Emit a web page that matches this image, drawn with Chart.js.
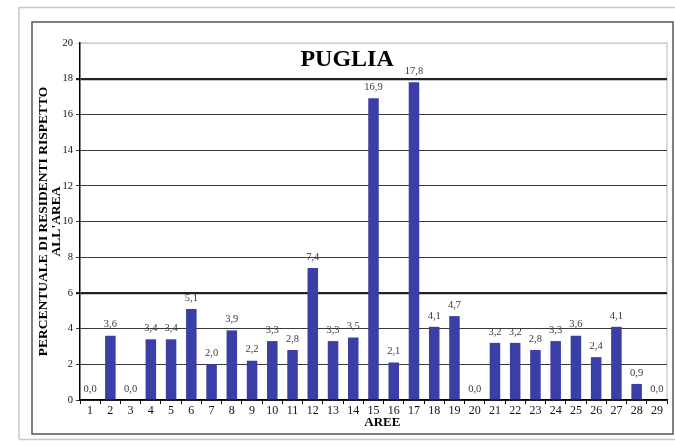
<!DOCTYPE html>
<html>
<head>
<meta charset="utf-8">
<script src="https://cdn.jsdelivr.net/npm/chart.js@4/dist/chart.umd.min.js"></script>
<style>
  html, body { margin: 0; padding: 0; background: #ffffff; }
  #wrap { width: 675px; height: 445px; position: relative; }
</style>
</head>
<body>
<div id="wrap"><canvas id="c" width="675" height="445"></canvas></div>
<script>
const categories = ['1','2','3','4','5','6','7','8','9','10','11','12','13','14','15','16','17','18','19','20','21','22','23','24','25','26','27','28','29'];
const values = [0.0, 3.6, 0.0, 3.4, 3.4, 5.1, 2.0, 3.9, 2.2, 3.3, 2.8, 7.4, 3.3, 3.5, 16.9, 2.1, 17.8, 4.1, 4.7, 0.0, 3.2, 3.2, 2.8, 3.3, 3.6, 2.4, 4.1, 0.9, 0.0];
const chartTitle = 'PUGLIA';
const yTitle = ['PERCENTUALE DI RESIDENTI RISPETTO', "ALL'AREA"];
const xTitle = 'AREE';

const SERIF = '"Liberation Serif", "DejaVu Serif", serif';

const framePlugin = {
  id: 'framePlugin',
  beforeDraw(chart) {
    const ctx = chart.ctx;
    const a = chart.chartArea;
    ctx.save();
    ctx.fillStyle = '#ffffff';
    ctx.fillRect(0, 0, chart.width, chart.height);
    // outer light frame
    ctx.strokeStyle = '#c8c8c8';
    ctx.lineWidth = 1.5;
    ctx.beginPath();
    ctx.moveTo(19, 439.5);
    ctx.lineTo(19, 7.5);
    ctx.lineTo(675, 7.5);
    ctx.moveTo(19, 439.5);
    ctx.lineTo(675, 439.5);
    ctx.stroke();
    // inner dark frame
    ctx.strokeStyle = '#555555';
    ctx.lineWidth = 1.5;
    ctx.strokeRect(32, 22, 641, 412);
    // plot area border (light)
    ctx.strokeStyle = '#cfcfcf';
    ctx.lineWidth = 1.5;
    ctx.beginPath();
    ctx.moveTo(a.left, a.top);
    ctx.lineTo(a.right, a.top);
    ctx.lineTo(a.right, a.bottom);
    ctx.stroke();
    ctx.restore();
  },
  afterDatasetsDraw(chart) {
    const ctx = chart.ctx;
    const a = chart.chartArea;
    const meta = chart.getDatasetMeta(0);
    ctx.save();
    ctx.font = '10.5px ' + SERIF;
    ctx.fillStyle = '#3a3a3a';
    ctx.textAlign = 'center';
    ctx.textBaseline = 'middle';
    meta.data.forEach((bar, i) => {
      const v = chart.data.datasets[0].data[i];
      ctx.fillText(v.toFixed(1).replace('.', ','), bar.x, bar.y - 11);
    });
    // chart title inside plot area
    ctx.font = 'bold 24px ' + SERIF;
    ctx.fillStyle = '#000000';
    ctx.fillText(chartTitle, a.left + a.width * 0.455, a.top + 17);
    // x axis title
    ctx.font = 'bold 13px ' + SERIF;
    ctx.fillText(xTitle, a.left + a.width * 0.515, a.bottom + 23);
    ctx.restore();
  }
};

const ctx = document.getElementById('c').getContext('2d');
new Chart(ctx, {
  type: 'bar',
  data: {
    labels: categories,
    datasets: [{
      data: values,
      backgroundColor: '#3b3ea6',
      borderWidth: 0,
      barPercentage: 0.52,
      categoryPercentage: 1.0
    }]
  },
  options: {
    responsive: false,
    animation: false,
    devicePixelRatio: 1,
    layout: { padding: { left: 32, right: 8, top: 43, bottom: 15 } },
    plugins: {
      legend: { display: false },
      title: { display: false },
      tooltip: { enabled: false }
    },
    scales: {
      x: {
        offset: true,
        grid: {
          display: true,
          offset: true,
          drawOnChartArea: false,
          drawTicks: true,
          tickLength: 4,
          color: '#000000',
          lineWidth: 1
        },
        border: { display: true, color: '#000000', width: 1.5 },
        ticks: {
          color: '#111111',
          font: { family: SERIF, size: 12 },
          padding: 0,
          maxRotation: 0,
          autoSkip: false
        },
        title: { display: false },
        afterFit(scale) { scale.height = 30; }
      },
      y: {
        min: 0,
        max: 20,
        ticks: {
          stepSize: 2,
          color: '#111111',
          font: { family: SERIF, size: 10.5 },
          padding: 3
        },
        grid: {
          drawTicks: true,
          tickLength: 4,
          color(c) {
            const v = c.tick ? c.tick.value : null;
            if (v === 20) return '#cfcfcf';
            if (v === 18 || v === 6) return '#222222';
            return '#3a3a3a';
          },
          lineWidth(c) {
            const v = c.tick ? c.tick.value : null;
            if (v === 18 || v === 6) return 2.2;
            return 1;
          }
        },
        border: { display: true, color: '#000000', width: 1.5 },
        title: {
          display: true,
          text: yTitle,
          color: '#000000',
          font: { family: SERIF, size: 13.5, weight: 'bold', lineHeight: 0.96 },
          padding: { top: 5, bottom: 0 }
        },
        afterFit(scale) { scale.width = 48; }
      }
    }
  },
  plugins: [framePlugin]
});
</script>
</body>
</html>
